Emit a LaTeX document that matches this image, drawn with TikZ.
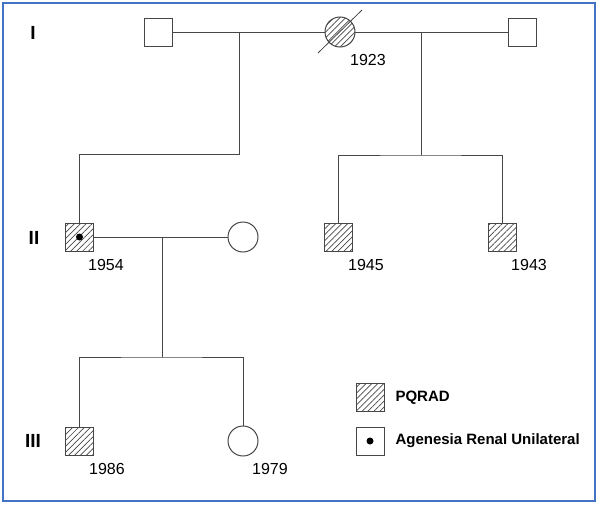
\documentclass[tikz,border=0pt]{standalone}
\usepackage{fontspec}
\setmainfont{Liberation Sans}
\usepackage{xcolor}
\usepackage{tikz}
\usetikzlibrary{positioning,calc,patterns.meta}
\definecolor{framecol}{RGB}{68,114,196}
\definecolor{pedline}{RGB}{70,70,70}
\tikzset{
  male/.style={draw=pedline, rectangle, minimum width=28pt, minimum height=28pt,
               inner sep=0pt, line width=1pt},
  female/.style={draw=pedline, circle, minimum size=30pt, inner sep=0pt,
                 line width=1pt},
  affected/.style={pattern={Lines[angle=45,distance=4.2pt,line width=0.7pt]},
                   pattern color=pedline},
  year/.style={font=\fontsize{16}{18}\selectfont},
  gen/.style={font=\fontsize{19}{21}\selectfont\bfseries},
  legtext/.style={anchor=west, font=\fontsize{15}{17}\selectfont\bfseries},
  link/.style={draw=pedline, line width=1pt}
}

\begin{document}
\begin{tikzpicture}[x=1pt,y=-1pt]
  \useasboundingbox (0,0) rectangle (600,506);
  \draw[framecol, line width=1.6pt] (3,3) rectangle (595,501);
  % generation I
  \node[gen] (g1) at (33,33) {I};
  \node[male] (i1) at (158,32) {};
  \node[female, affected] (i2) at (340,32) {};
  \node[male] (i3) at (522,32) {};
  \node[year] (y1923) at (368,60) {1923};
  \draw[pedline, line width=0.8pt] (i2.center) ++(-22,21) -- ++(44,-43);
  % generation II
  \node[gen] (g2) at (34,238) {II};
  \node[male, affected] (ii1) at (79.5,237) {};
  \fill (ii1.center) circle (3.5);
  \node[female] (ii2) at (243,237) {};
  \node[male, affected] (ii3) at (338,237) {};
  \node[male, affected] (ii4) at (502,237) {};
  \node[year] (y1954) at (106,265) {1954};
  \node[year] (y1945) at (366,265) {1945};
  \node[year] (y1943) at (529,265) {1943};
  % generation III
  \node[gen] (g3) at (33,441) {III};
  \node[male, affected] (iii1) at (79.5,441) {};
  \node[female] (iii2) at (243,441) {};
  \node[year] (y1986) at (107,469) {1986};
  \node[year] (y1979) at (270,469) {1979};
  % couples and sibships
  \coordinate (c1) at (239,32);
  \coordinate (s1) at (239,154);
  \coordinate (c2) at (421,32);
  \coordinate (s2) at (421,155);
  \coordinate (c3) at (162,237);
  \coordinate (s3) at (162,357);
  \draw[link] (i1) -- (i2);
  \draw[link] (i2) -- (i3);
  \draw[link] (c1) -- (s1) -| (ii1.north);
  \draw[link] (c2) -- (s2);
  \draw[link] (ii3.north) |- (s2) -| (ii4.north);
  \draw[link] (ii1) -- (ii2);
  \draw[link] (c3) -- (s3);
  \draw[link] (iii1.north) |- (s3) -| (iii2.north);
  % legend
  \node[male, affected] (lg1) at (370,397) {};
  \node[legtext] (lt1) at (392,398) {PQRAD};
  \node[male] (lg2) at (370,441) {};
  \fill (lg2.center) circle (3.5);
  \node[legtext] (lt2) at (392,441) {Agenesia Renal Unilateral};
\end{tikzpicture}
\end{document}
